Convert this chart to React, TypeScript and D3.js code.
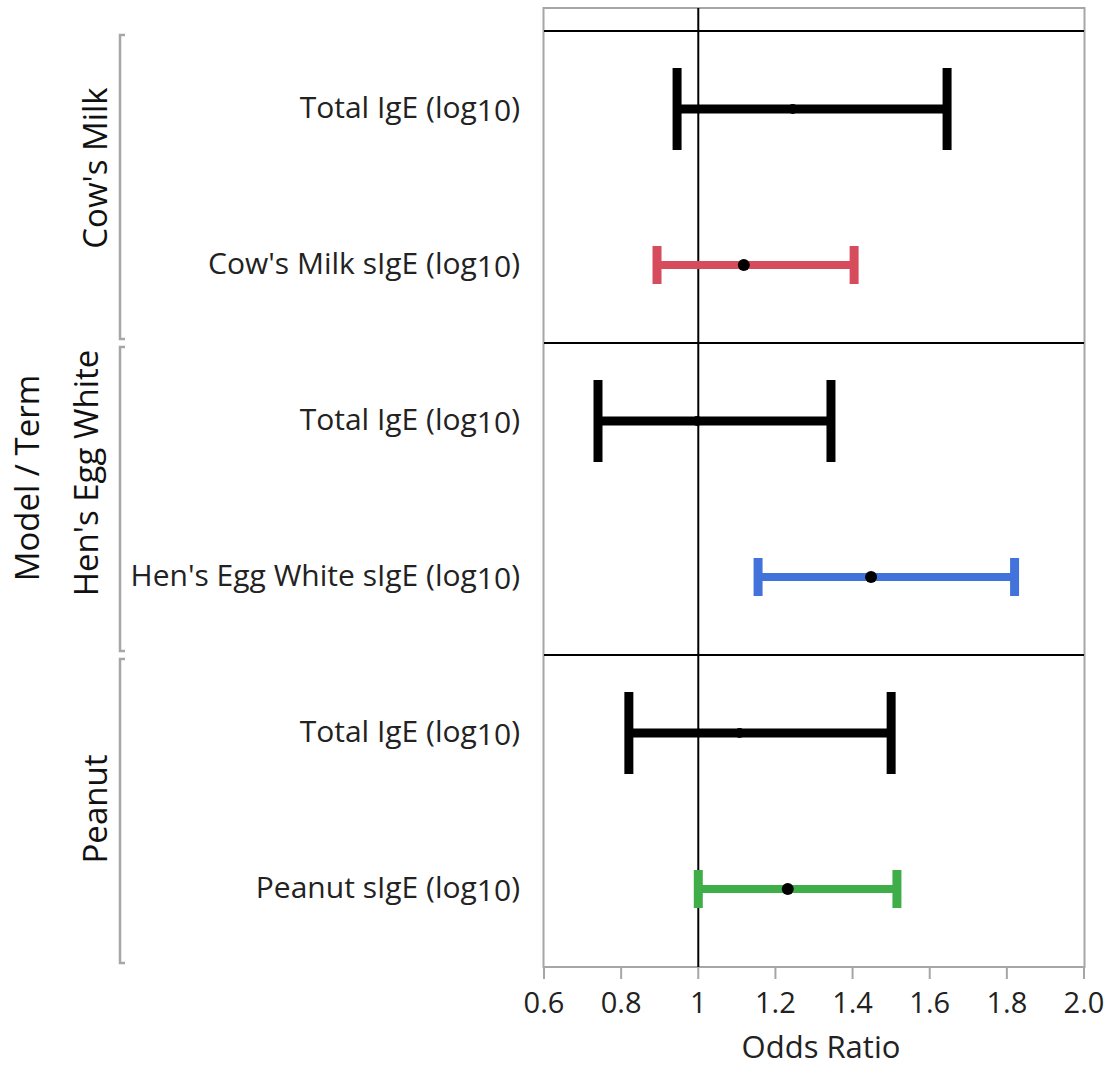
import React from "react";
import * as d3 from "d3";

const groups = ["Cow's Milk", "Hen's Egg White", "Peanut"];
const terms = [
  ["Total IgE", "Cow's Milk sIgE"],
  ["Total IgE", "Hen's Egg White sIgE"],
  ["Total IgE", "Peanut sIgE"],
];
const estimates = [
  [1.245, 1.118],
  [0.997, 1.448],
  [1.107, 1.232],
];
const lowers = [
  [0.945, 0.893],
  [0.74, 1.155],
  [0.82, 1.0],
];
const uppers = [
  [1.645, 1.404],
  [1.344, 1.82],
  [1.5, 1.515],
];
const termColors = [
  ["#000000", "#d64c5c"],
  ["#000000", "#4173db"],
  ["#000000", "#3fae49"],
];
const xTicks = [0.6, 0.8, 1, 1.2, 1.4, 1.6, 1.8, 2.0];
const xTickLabels = ["0.6", "0.8", "1", "1.2", "1.4", "1.6", "1.8", "2.0"];
const groupLabelCenters = [168, 473, 809];
const groupLabelX = [107, 98, 107];

const FONT = "'Open Sans', 'Noto Sans', sans-serif";

export default function App() {
  const W = 1110;
  const H = 1068;
  const left = 544;
  const right = 1084;
  const frameTop = 8;
  const panelTop = 31;
  const bottom = 967;

  const x = d3.scaleLinear().domain([0.6, 2.0]).range([left, right]);
  const yGroup = d3.scaleBand<string>().domain(groups).range([panelTop, bottom]).padding(0);
  const bw = yGroup.bandwidth();

  return (
    <svg width={W} height={H} style={{ position: "absolute", left: 0, top: 0, background: "#fff" }} fontFamily={FONT}>
      <rect x={0} y={0} width={W} height={H} fill="#fff" />
      {/* frame */}
      <rect x={left - 0.5} y={frameTop} width={right - left + 1} height={bottom - frameTop} fill="none" stroke="#a6a6a6" strokeWidth={2} />
      {/* panel separators */}
      {groups.map((g) => (
        <line key={"sep" + g} x1={left} x2={right} y1={yGroup(g)!} y2={yGroup(g)!} stroke="#000" strokeWidth={2} />
      ))}
      {/* reference line at 1 */}
      <line x1={x(1)} x2={x(1)} y1={frameTop} y2={bottom} stroke="#000" strokeWidth={2} />
      {/* error bars */}
      {groups.map((g, gi) => {
        const yTerm = d3.scaleBand<number>().domain([0, 1]).range([yGroup(g)!, yGroup(g)! + bw]);
        return terms[gi].map((t, ti) => {
          const cy = yTerm(ti)! + yTerm.bandwidth() / 2;
          const col = termColors[gi][ti];
          const black = col === "#000000";
          const capH = black ? 41 : 19;
          const lw = black ? 9 : 8;
          const capW = 9;
          const x0 = x(lowers[gi][ti]);
          const x1 = x(uppers[gi][ti]);
          return (
            <g key={g + t}>
              <line x1={x0} x2={x1} y1={cy} y2={cy} stroke={col} strokeWidth={lw} />
              <line x1={x0} x2={x0} y1={cy - capH} y2={cy + capH} stroke={col} strokeWidth={capW} />
              <line x1={x1} x2={x1} y1={cy - capH} y2={cy + capH} stroke={col} strokeWidth={capW} />
              <circle cx={x(estimates[gi][ti])} cy={cy} r={black ? 5 : 6} fill="#000" />
              <text x={520} y={cy + 9} textAnchor="end" fontSize={30} fill="#222">
                {t + " (log"}
                <tspan dy={3}>10</tspan>
                <tspan dy={-3}>)</tspan>
              </text>
            </g>
          );
        });
      })}
      {/* group brackets */}
      {groups.map((g, gi) => {
        const y0 = yGroup(g)! + 4;
        const y1 = yGroup(g)! + bw - 4;
        return (
          <g key={"br" + g}>
            <path d={`M125,${y0} H120 V${y1} H125`} fill="none" stroke="#a6a6a6" strokeWidth={2.5} />
            <text transform={`translate(${groupLabelX[gi]},${groupLabelCenters[gi]}) rotate(-90)`} textAnchor="middle" fontSize={33} fill="#111">
              {g}
            </text>
          </g>
        );
      })}
      <text transform={`translate(39,478) rotate(-90)`} textAnchor="middle" fontSize={33} fill="#111">
        Model / Term
      </text>
      {/* x axis ticks */}
      {xTicks.map((v, i) => (
        <g key={"t" + i}>
          <line x1={x(v)} x2={x(v)} y1={bottom} y2={bottom + 12} stroke="#a6a6a6" strokeWidth={2} />
          <text x={x(v)} y={1013} textAnchor="middle" fontSize={29} fill="#222">
            {xTickLabels[i]}
          </text>
        </g>
      ))}
      <text x={(left + right) / 2 + 7} y={1058} textAnchor="middle" fontSize={31} fill="#222">
        Odds Ratio
      </text>
    </svg>
  );
}
